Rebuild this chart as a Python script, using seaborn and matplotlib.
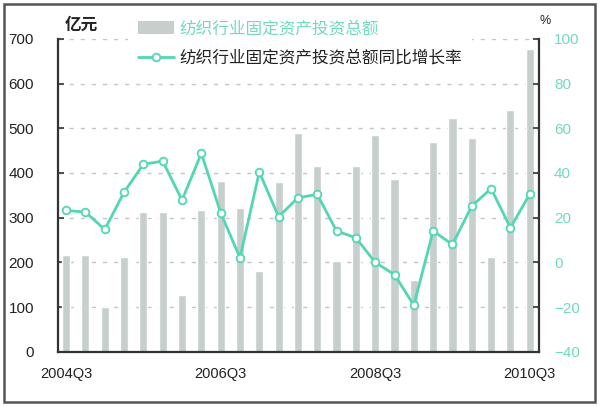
import numpy as np
import matplotlib
matplotlib.use("Agg")
import matplotlib.pyplot as plt
import seaborn as sns
from matplotlib.patches import Patch, Rectangle
from matplotlib.lines import Line2D

# --- data ---
quarters = ["2004Q3", "2004Q4", "2005Q1", "2005Q2", "2005Q3", "2005Q4",
            "2006Q1", "2006Q2", "2006Q3", "2006Q4", "2007Q1", "2007Q2",
            "2007Q3", "2007Q4", "2008Q1", "2008Q2", "2008Q3", "2008Q4",
            "2009Q1", "2009Q2", "2009Q3", "2009Q4", "2010Q1", "2010Q2",
            "2010Q3"]
invest = [216, 216, 100, 213, 312, 312, 126, 317, 382, 321, 180, 379,
          490, 415, 203, 415, 486, 386, 160, 469, 523, 478, 213, 540, 678]
growth = [23.2, 22.5, 14.7, 31.4, 43.9, 45.3, 27.8, 48.8, 22.2, 2.0, 40.4,
          20.4, 28.9, 30.4, 14.0, 11.0, 0.0, -5.5, -19.2, 14.0, 8.0, 25.2,
          33.0, 15.5, 30.5]
shown_labels = ["2004Q3", "2006Q3", "2008Q3", "2010Q3"]

bar_label = "纺织行业固定资产投资总额"
line_label = "纺织行业固定资产投资总额同比增长率"

bar_color = "#c7cfcc"
teal = "#52d6b4"
teal_text = "#72d9c0"
spine_color = "#333333"

sns.set_style("white")
plt.rcParams["font.family"] = ["Noto Sans CJK SC", "DejaVu Sans"]
num_font = ["Liberation Sans", "DejaVu Sans"]

fig = plt.figure(figsize=(6, 4.09), dpi=100)
ax = fig.add_axes([0.097, 0.14, 0.801, 0.765])

sns.barplot(x=quarters, y=invest, color=bar_color, saturation=1,
            width=0.42, ax=ax, zorder=2)

ax2 = ax.twinx()
sns.lineplot(x=np.arange(len(quarters)), y=growth, ax=ax2, color=teal,
             linewidth=2, marker="o", markersize=5.5,
             markerfacecolor="white", markeredgecolor=teal,
             markeredgewidth=1.3)

# --- axes setup ---
ax.set_xlim(-0.41, 24.47)
ax.set_ylim(0, 700)
ax2.set_ylim(-40, 100)
ax.set_yticks(range(0, 701, 100))
ax2.set_yticks(range(-40, 101, 20))
ax.set_xlabel("")
ax.set_ylabel("")
ax2.set_ylabel("")

ax.set_xticks([quarters.index(q) for q in shown_labels])
ax.set_xticklabels(shown_labels)
ax.set_xticks(np.arange(1.5, 24, 2), minor=True)
ax.tick_params(axis="x", which="major", length=0, pad=11,
               labelsize=10.5, labelcolor="#222222")
ax.tick_params(axis="x", which="minor", direction="in", length=4,
               width=1.2, color=spine_color)
ax.tick_params(axis="y", direction="in", length=4, width=1.2,
               color=spine_color, pad=17.5, labelsize=11,
               labelcolor="#222222")
ax2.tick_params(axis="y", direction="in", length=4, width=1.2,
                color=spine_color, pad=11, labelsize=11,
                labelcolor=teal_text)
for lab in ax.get_xticklabels() + ax.get_yticklabels() + ax2.get_yticklabels():
    lab.set_family(num_font)

ax.yaxis.grid(True, linestyle=(0, (3, 5)), color="#c4c4c4", linewidth=1)
ax.set_axisbelow(True)

for name, sp in ax.spines.items():
    sp.set_visible(name in ("left", "bottom"))
    sp.set_color(spine_color)
    sp.set_linewidth(1.6)
for name, sp in ax2.spines.items():
    sp.set_visible(name == "right")
    sp.set_color(spine_color)
    sp.set_linewidth(1.6)

# --- legend ---
handles = [
    Patch(facecolor=bar_color, edgecolor="none"),
    Line2D([], [], color=teal, linewidth=2, marker="o", markersize=5.5,
           markerfacecolor="white", markeredgecolor=teal,
           markeredgewidth=1.3),
]
leg = fig.legend(handles, [bar_label, line_label], loc="upper left",
                 bbox_to_anchor=(0.213, 0.975), bbox_transform=fig.transFigure,
                 frameon=True, facecolor="white", edgecolor="none",
                 framealpha=1, fancybox=False, fontsize=12,
                 handlelength=2.2, handleheight=0.75, handletextpad=0.3,
                 labelspacing=0.75, borderpad=0.6, borderaxespad=0)
leg.get_texts()[0].set_color(teal_text)
leg.get_texts()[1].set_color("#222222")

fig.text(65 / 600, 1 - 25 / 409, "亿元", ha="left", va="center",
         fontsize=12, fontweight="bold", color="#222222")
fig.text(540 / 600, 1 - 21 / 409, "%", ha="left", va="center",
         fontsize=9, color="#222222", family=num_font)

# outer frame
fig.patches.append(Rectangle((4 / 600, 1 - 402 / 409), 591 / 600, 398 / 409,
                             transform=fig.transFigure, fill=False,
                             edgecolor="#555555", linewidth=1.8))

fig.savefig("out.png", dpi=100)
